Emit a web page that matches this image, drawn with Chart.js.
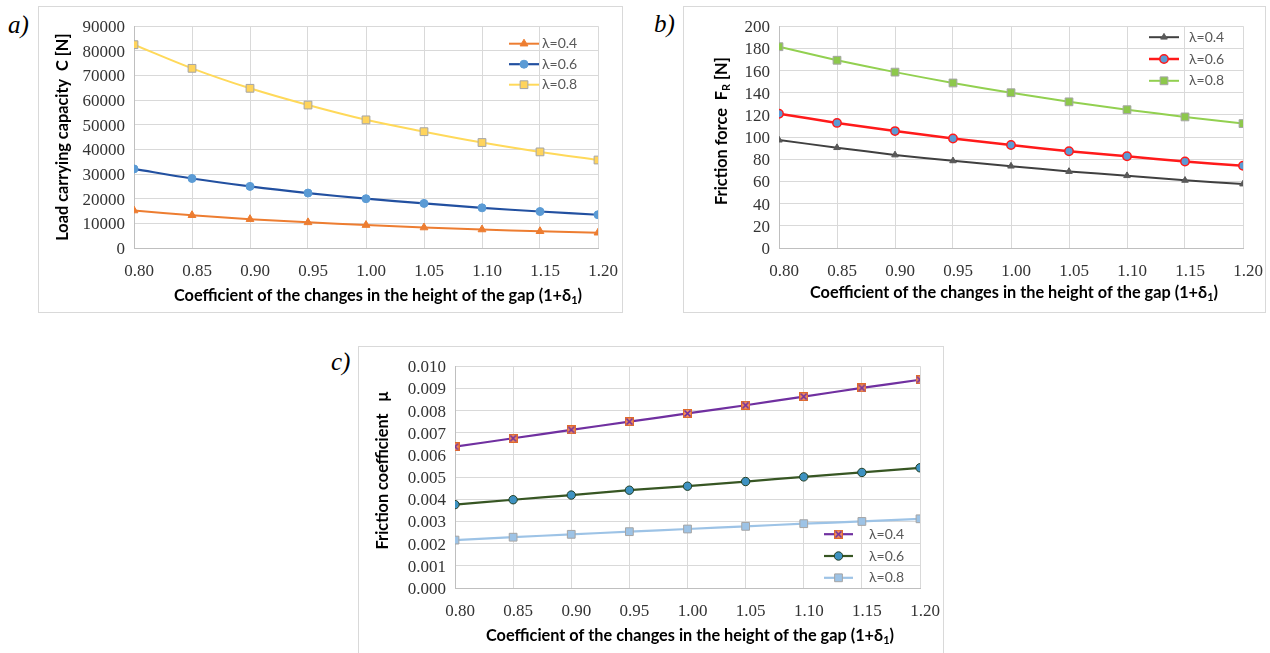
<!DOCTYPE html>
<html>
<head>
<meta charset="utf-8">
<script src="https://cdn.jsdelivr.net/npm/chart.js@4.4.1/dist/chart.umd.min.js"></script>
<style>
    html, body { margin: 0; padding: 0; background: #fff; width: 1270px; height: 653px; overflow: hidden; }
    .panel { position: absolute; border: 1px solid #d9d9d9; box-sizing: border-box; background: #fff; }
    .panel canvas { position: absolute; left: 0; top: 0; }
    .tag { position: absolute; font-family: "Liberation Serif", serif; font-style: italic; font-size: 25px; color: #000; line-height: 1; }
</style>
</head>
<body>
<div class="tag" style="left:8px; top:12px;">a)</div>
<div class="tag" style="left:654px; top:11px;">b)</div>
<div class="tag" style="left:331px; top:349px;">c)</div>

<div class="panel" style="left:38px; top:6px; width:585px; height:307px;">
    <canvas id="load_capacity_canvas" width="583" height="305"></canvas>
</div>
<div class="panel" style="left:683px; top:6px; width:583px; height:307px;">
    <canvas id="friction_force_canvas" width="581" height="305"></canvas>
</div>
<div class="panel" style="left:358px; top:346px; width:586px; height:320px;">
    <canvas id="friction_coefficient_canvas" width="584" height="305"></canvas>
</div>

<script>
// values
const gap_coefficients = [0.80, 0.85, 0.90, 0.95, 1.00, 1.05, 1.10, 1.15, 1.20];
const lambda_labels = ["λ=0.4", "λ=0.6", "λ=0.8"];

const load_capacity_l04 = [15200, 13300, 11700, 10400, 9300, 8300, 7500, 6800, 6200];
const load_capacity_l06 = [32100, 28200, 25000, 22300, 20000, 18100, 16300, 14800, 13500];
const load_capacity_l08 = [82500, 72900, 64800, 58000, 52000, 47200, 42800, 39000, 35700];

const friction_force_l04 = [97.3, 90.5, 83.9, 78.6, 73.8, 69.0, 65.2, 61.0, 57.7];
const friction_force_l06 = [121.1, 112.8, 105.4, 98.8, 92.9, 87.2, 82.7, 78.0, 74.1];
const friction_force_l08 = [181.5, 169.3, 158.6, 148.8, 140.0, 131.8, 124.7, 118.2, 112.2];

const friction_coef_l04 = [0.00637, 0.00675, 0.00713, 0.00750, 0.00787, 0.00824, 0.00863, 0.00902, 0.00939];
const friction_coef_l06 = [0.00376, 0.00398, 0.00419, 0.00441, 0.00459, 0.00480, 0.00501, 0.00521, 0.00542];
const friction_coef_l08 = [0.00216, 0.00229, 0.00242, 0.00254, 0.00266, 0.00278, 0.00290, 0.00300, 0.00312];

const x_title = [{text: "Coefficient of the changes in the height of the gap (1+δ"}, {text: "1", sub: true}, {text: ")"}];

const tick_font = {family: "'Liberation Serif', serif", size: 17};
const tick_color = "#333333";
const grid_color = "#d9d9d9";
const axis_color = "#bfbfbf";
const title_family = "Lato, 'DejaVu Sans', sans-serif";
const legend_font = "14px Lato, 'DejaVu Sans', sans-serif";

function to_points(values) {
    return gap_coefficients.map((x, i) => ({x: x, y: values[i]}));
}

function draw_rich(ctx, segments, cx, cy, rotation, size) {
    const main_font = "bold " + size + "px " + title_family;
    const sub_font = "bold " + Math.round(size * 0.68) + "px " + title_family;
    let total = 0;
    for (const s of segments) {
        ctx.font = s.sub ? sub_font : main_font;
        total += ctx.measureText(s.text).width;
    }
    ctx.save();
    ctx.translate(cx, cy);
    ctx.rotate(rotation);
    ctx.textBaseline = "middle";
    ctx.textAlign = "left";
    ctx.fillStyle = "#000";
    let x = -total / 2;
    for (const s of segments) {
        ctx.font = s.sub ? sub_font : main_font;
        ctx.fillText(s.text, x, s.sub ? size * 0.3 : 0);
        x += ctx.measureText(s.text).width;
    }
    ctx.restore();
}

function make_titles_plugin(cfg) {
    return {
        id: "axis_titles",
        afterDraw(chart) {
            const area = chart.chartArea;
            draw_rich(chart.ctx, x_title, (area.left + area.right) / 2 + cfg.x_dx, area.bottom + cfg.x_dy, 0, cfg.size);
            draw_rich(chart.ctx, cfg.y_title, area.left + cfg.y_dx, (area.top + area.bottom) / 2 + cfg.y_dy, -Math.PI / 2, cfg.size);
        }
    };
}

function make_legend_plugin(cfg) {
    return {
        id: "inner_legend",
        afterDatasetsDraw(chart) {
            const ctx = chart.ctx;
            const area = chart.chartArea;
            chart.data.datasets.forEach((ds, i) => {
                const x0 = area.right + cfg.dx;
                const y = area.top + cfg.dy + i * cfg.gap;
                ctx.save();
                ctx.strokeStyle = ds.borderColor;
                ctx.lineWidth = ds.borderWidth;
                ctx.beginPath();
                ctx.moveTo(x0, y);
                ctx.lineTo(x0 + cfg.line_length, y);
                ctx.stroke();
                ctx.fillStyle = ds.pointBackgroundColor;
                ctx.strokeStyle = ds.pointBorderColor;
                ctx.lineWidth = ds.pointBorderWidth;
                Chart.helpers.drawPoint(ctx, {
                    pointStyle: ds.pointStyle, rotation: 0,
                    radius: ds.pointRadius, borderWidth: ds.pointBorderWidth
                }, x0 + cfg.line_length / 2, y);
                ctx.fillStyle = "#595959";
                ctx.font = legend_font;
                ctx.textBaseline = "middle";
                ctx.textAlign = "left";
                ctx.fillText(ds.label, x0 + cfg.text_dx, y);
                ctx.restore();
            });
        }
    };
}

function make_scales(y_max, y_step, y_format, y_width) {
    return {
        x: {
            type: "linear",
            min: 0.8,
            max: 1.2,
            ticks: {
                stepSize: 0.05,
                font: tick_font,
                color: tick_color,
                padding: 13,
                labelOffset: 5,
                maxRotation: 0,
                autoSkip: false,
                callback: (v) => v.toFixed(2)
            },
            grid: {color: grid_color, drawTicks: false},
            border: {color: axis_color},
            afterFit: (s) => {
                s.height = 64;
                // the layout padding already leaves room for the end labels
                s.paddingLeft = 0;
                s.paddingRight = 0;
            }
        },
        y: {
            min: 0,
            max: y_max,
            ticks: {
                stepSize: y_step,
                font: tick_font,
                color: tick_color,
                padding: 9,
                labelOffset: 1.5,
                autoSkip: false,
                callback: y_format
            },
            grid: {color: grid_color, drawTicks: false},
            border: {color: axis_color},
            afterFit: (s) => { s.width = y_width; }
        }
    };
}

function base_options(scales, padding) {
    return {
        responsive: false,
        animation: false,
        layout: {padding: padding},
        plugins: {legend: {display: false}, tooltip: {enabled: false}},
        scales: scales
    };
}

function make_cross_marker() {
    const c = document.createElement("canvas");
    c.width = 9;
    c.height = 9;
    const g = c.getContext("2d");
    g.fillStyle = "#F08C5E";
    g.fillRect(0, 0, 9, 9);
    g.strokeStyle = "#E06A2C";
    g.lineWidth = 1;
    g.strokeRect(0.5, 0.5, 8, 8);
    g.strokeStyle = "#7030A0";
    g.lineWidth = 1.6;
    g.beginPath();
    g.moveTo(1.5, 1.5); g.lineTo(7.5, 7.5);
    g.moveTo(7.5, 1.5); g.lineTo(1.5, 7.5);
    g.stroke();
    return c;
}

let load_capacity_plot;
let friction_force_plot;
let friction_coefficient_plot;

function setup_load_capacity() {
    const data = {
        datasets: [
            {
                label: lambda_labels[0], data: to_points(load_capacity_l04),
                borderColor: "#ED7D31", borderWidth: 2, tension: 0.35,
                pointStyle: "triangle", pointRadius: 4.5,
                pointBackgroundColor: "#ED7D31", pointBorderColor: "#ED7D31", pointBorderWidth: 1
            },
            {
                label: lambda_labels[1], data: to_points(load_capacity_l06),
                borderColor: "#2250A0", borderWidth: 2.2, tension: 0.35,
                pointStyle: "circle", pointRadius: 4,
                pointBackgroundColor: "#5B9BD5", pointBorderColor: "#5B9BD5", pointBorderWidth: 1
            },
            {
                label: lambda_labels[2], data: to_points(load_capacity_l08),
                borderColor: "#FFD95A", borderWidth: 2, tension: 0.35,
                pointStyle: "rect", pointRadius: 5.5,
                pointBackgroundColor: "#FFD45C", pointBorderColor: "#A5A5A5", pointBorderWidth: 1
            }
        ]
    };

    const config = {
        type: "line",
        data: data,
        options: base_options(
            make_scales(90000, 10000, (v) => String(v), 95),
            {left: 0, right: 24, top: 16, bottom: 0}
        ),
        plugins: [
            make_titles_plugin({
                size: 16.3, x_dx: 12, x_dy: 48, y_dx: -71, y_dy: 0,
                y_title: [{text: "Load carrying capacity  C [N]"}]
            }),
            make_legend_plugin({dx: -89, dy: 17.5, gap: 20.5, line_length: 30, text_dx: 33})
        ]
    };

    load_capacity_plot = new Chart(document.getElementById("load_capacity_canvas"), config);
}

function setup_friction_force() {
    const data = {
        datasets: [
            {
                label: lambda_labels[0], data: to_points(friction_force_l04),
                borderColor: "#404040", borderWidth: 2, tension: 0.2,
                pointStyle: "triangle", pointRadius: 3.8,
                pointBackgroundColor: "#595959", pointBorderColor: "#595959", pointBorderWidth: 1
            },
            {
                label: lambda_labels[1], data: to_points(friction_force_l06),
                borderColor: "#FF1A1A", borderWidth: 2.5, tension: 0.2,
                pointStyle: "circle", pointRadius: 4.2,
                pointBackgroundColor: "#5B9BD5", pointBorderColor: "#FF1A1A", pointBorderWidth: 1.5
            },
            {
                label: lambda_labels[2], data: to_points(friction_force_l08),
                borderColor: "#92D050", borderWidth: 2, tension: 0.2,
                pointStyle: "rect", pointRadius: 5.5,
                pointBackgroundColor: "#8DC84B", pointBorderColor: "#A5A5A5", pointBorderWidth: 1
            }
        ]
    };

    const config = {
        type: "line",
        data: data,
        options: base_options(
            make_scales(200, 20, (v) => String(v), 95),
            {left: 0, right: 22, top: 17, bottom: 0}
        ),
        plugins: [
            make_titles_plugin({
                size: 16.3, x_dx: 3, x_dy: 45, y_dx: -57, y_dy: -6,
                y_title: [{text: "Friction force  F"}, {text: "R", sub: true}, {text: " [N]"}]
            }),
            make_legend_plugin({dx: -94, dy: 11, gap: 21.8, line_length: 30, text_dx: 40})
        ]
    };

    friction_force_plot = new Chart(document.getElementById("friction_force_canvas"), config);
}

function setup_friction_coefficient() {
    const data = {
        datasets: [
            {
                label: lambda_labels[0], data: to_points(friction_coef_l04),
                borderColor: "#7030A0", borderWidth: 2.2, tension: 0.2,
                pointStyle: make_cross_marker(), pointRadius: 4.5,
                pointBackgroundColor: "#F08C5E", pointBorderColor: "#7030A0", pointBorderWidth: 0
            },
            {
                label: lambda_labels[1], data: to_points(friction_coef_l06),
                borderColor: "#375623", borderWidth: 2.2, tension: 0.2,
                pointStyle: "circle", pointRadius: 4.2,
                pointBackgroundColor: "#3E92C2", pointBorderColor: "#233F23", pointBorderWidth: 1
            },
            {
                label: lambda_labels[2], data: to_points(friction_coef_l08),
                borderColor: "#9DC3E6", borderWidth: 2.2, tension: 0.2,
                pointStyle: "rect", pointRadius: 5.5,
                pointBackgroundColor: "#9DC3E6", pointBorderColor: "#A5A5A5", pointBorderWidth: 1
            }
        ]
    };

    const config = {
        type: "line",
        data: data,
        options: base_options(
            make_scales(0.010, 0.001, (v) => v.toFixed(3), 96),
            {left: 0, right: 23, top: 15, bottom: 0}
        ),
        plugins: [
            make_titles_plugin({
                size: 16.3, x_dx: 2.5, x_dy: 48, y_dx: -72, y_dy: -6.5,
                y_title: [{text: "Friction coefficient   μ"}]
            }),
            make_legend_plugin({dx: -96, dy: 168, gap: 21.8, line_length: 29, text_dx: 45})
        ]
    };

    friction_coefficient_plot = new Chart(document.getElementById("friction_coefficient_canvas"), config);
}

Promise.all([
    document.fonts.load("17px 'Liberation Serif'"),
    document.fonts.load("bold 16px Lato"),
    document.fonts.load("14px Lato")
]).catch(() => null).then(() => {
    setup_load_capacity();
    setup_friction_force();
    setup_friction_coefficient();
});
</script>
</body>
</html>
